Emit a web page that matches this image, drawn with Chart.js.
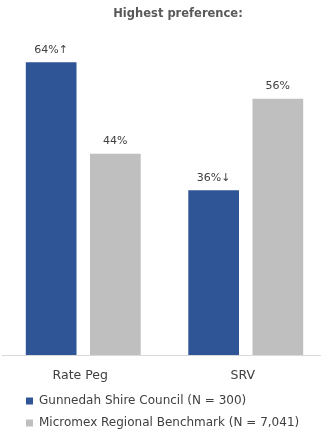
<!DOCTYPE html>
<html>
<head>
<meta charset="utf-8">
<script src="https://cdn.jsdelivr.net/npm/chart.js@4"></script>
<style>
  html, body { margin: 0; padding: 0; background: #fff; overflow: hidden; }
  #wrap { width: 330px; height: 436px; }
</style>
</head>
<body>
<div id="wrap"><canvas id="chart"></canvas></div>
<script>
const categories = ["Rate Peg", "SRV"];
const councilValues = [64, 36];
const benchmarkValues = [44, 56];
const councilLabels = ["64%\u2191", "36%\u2193"];
const benchmarkLabels = ["44%", "56%"];
const seriesNames = ["Gunnedah Shire Council (N = 300)", "Micromex Regional Benchmark (N = 7,041)"];

const FONT = "'DejaVu Sans', sans-serif";

// value labels above bars
const barLabels = {
  id: "barLabels",
  afterDatasetsDraw(chart) {
    const ctx = chart.ctx;
    ctx.save();
    ctx.font = "11px " + FONT;
    ctx.fillStyle = "#404040";
    ctx.textAlign = "center";
    ctx.textBaseline = "bottom";
    chart.data.datasets.forEach((ds, i) => {
      chart.getDatasetMeta(i).data.forEach((bar, j) => {
        ctx.fillText(ds.valueLabels[j], bar.x, bar.y - 7);
      });
    });
    ctx.restore();
  }
};

// nudge legend and title to where they sit in the source
const nudge = {
  id: "nudge",
  afterLayout(chart) {
    chart.legend.left += 14;
    chart.legend.top += 3;
    chart.titleBlock.left += 27;
  }
};

new Chart(document.getElementById("chart"), {
  type: "bar",
  data: {
    labels: categories,
    datasets: [
      {
        label: seriesNames[0],
        data: councilValues,
        valueLabels: councilLabels,
        backgroundColor: "#2F5597",
        borderWidth: 0
      },
      {
        label: seriesNames[1],
        data: benchmarkValues,
        valueLabels: benchmarkLabels,
        backgroundColor: "#BFBFBF",
        borderWidth: 0
      }
    ]
  },
  options: {
    responsive: true,
    maintainAspectRatio: false,
    animation: false,
    layout: { padding: { left: 2, right: 3, top: 0, bottom: 0 } },
    datasets: {
      bar: { categoryPercentage: 0.79, barPercentage: 0.79 }
    },
    scales: {
      x: {
        grid: { display: false, drawTicks: false },
        border: { display: true, color: "#D9D9D9", width: 1 },
        ticks: { color: "#404040", font: { family: FONT, size: 12.5 }, padding: 13, labelOffset: -3 },
        afterFit(scale) { scale.height = 27; }
      },
      y: {
        display: false,
        min: 0,
        max: 70
      }
    },
    plugins: {
      title: {
        display: true,
        text: "Highest preference:",
        color: "#595959",
        font: { family: FONT, size: 11.5, weight: "bold" },
        padding: { top: 7, bottom: 14 }
      },
      legend: {
        position: "bottom",
        align: "start",
        labels: {
          boxWidth: 7,
          boxHeight: 7,
          padding: 10,
          color: "#404040",
          font: { family: FONT, size: 12 }
        }
      },
      tooltip: { enabled: false }
    }
  },
  plugins: [barLabels, nudge]
});
</script>
</body>
</html>
